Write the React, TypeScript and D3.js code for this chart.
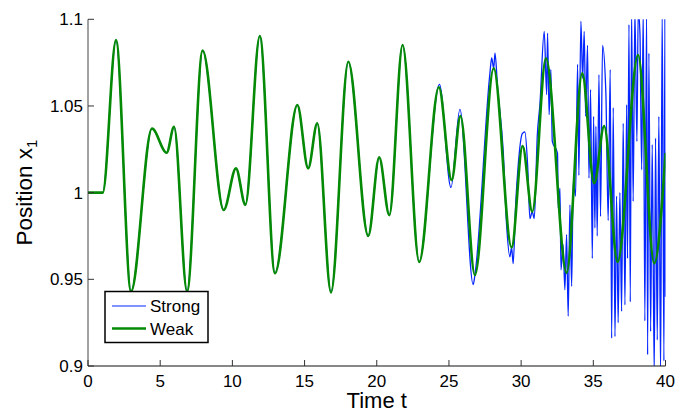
import React from 'react';
import * as d3 from 'd3';

// Weak coupling: smooth trajectory (turning points)
const weakT = [0, 1.02, 1.94, 2.98, 4.43, 5.45, 5.96, 6.86, 7.94, 9.4, 10.25, 10.9, 11.9, 12.95, 14.5, 15.25, 15.88, 16.83, 18.03, 19.41, 20.17, 20.87, 21.79, 22.94, 24.3, 25.19, 25.8, 26.8, 28.1, 29.34, 30.1, 30.77, 31.72, 33.15, 34.23, 35.06, 35.75, 36.68, 38.1, 39.22, 40];
const weakV = [1.0, 1.0, 1.088, 0.943, 1.037, 1.023, 1.038, 0.943, 1.082, 0.99, 1.014, 0.993, 1.0904, 0.9535, 1.0506, 1.014, 1.04, 0.9425, 1.0755, 0.975, 1.0204, 0.987, 1.0852, 0.96, 1.0608, 1.0073, 1.0442, 0.9525, 1.0717, 0.9684, 1.0269, 0.989, 1.0775, 0.9538, 1.0688, 1.0054, 1.0384, 0.96, 1.0794, 0.9592, 1.0222];

// Strong coupling: follows the weak curve, then breaks into spikes
const spikeT = [24.34, 25.14, 25.76, 26.68, 27.84, 27.96, 28.19, 28.37, 28.76, 29.0, 29.22, 29.45, 29.62, 29.8, 30.08, 30.26, 30.45, 30.61, 30.91, 31.12, 31.3, 31.6, 31.77, 31.83, 31.94, 32.06, 32.16, 32.52, 32.57, 32.69, 32.76, 32.91, 33.03, 33.15, 33.26, 33.38, 33.5, 33.61, 33.77, 33.91, 34.0, 34.14, 34.26, 34.37, 34.47, 34.6, 34.7, 34.81, 34.93, 35.02, 35.11, 35.18, 35.27, 35.39, 35.5, 35.64, 35.87, 36.03, 36.17, 36.27, 36.38, 36.5, 36.61, 36.72, 36.84, 36.96, 37.07, 37.19, 37.31, 37.37, 37.47, 37.56, 37.65, 37.76, 37.88, 38.02, 38.11, 38.23, 38.35, 38.46, 38.57, 38.69, 38.76, 38.85, 38.97, 39.08, 39.22, 39.31, 39.43, 39.54, 39.66, 39.77, 39.89, 39.96, 40.0];
const spikeV = [1.0625, 1.003, 1.048, 0.947, 1.069, 1.0777, 1.0805, 1.0604, 1.0238, 0.9806, 0.963, 0.959, 0.993, 1.016, 1.034, 1.035, 1.016, 0.985, 0.985, 1.033, 1.0507, 1.093, 1.0565, 1.092, 1.045, 1.071, 1.0296, 1.0228, 0.991, 1.0026, 0.9555, 0.97, 0.944, 0.9757, 0.9287, 0.993, 0.946, 1.0065, 0.998, 1.074, 1.01, 1.0989, 1.066, 1.093, 1.044, 1.085, 1.0084, 1.0594, 0.962, 1.044, 0.9796, 1.0383, 0.975, 1.068, 0.9863, 1.085, 1.0575, 0.984, 1.071, 0.916, 1.049, 0.917, 0.998, 0.925, 1.0, 0.9315, 1.04, 0.9353, 1.0507, 0.962, 1.097, 0.937, 1.105, 0.995, 1.105, 1.0296, 1.105, 1.092, 1.0132, 1.105, 0.926, 1.105, 0.9065, 1.0805, 0.92, 1.0277, 0.895, 1.0315, 0.915, 1.044, 0.895, 1.105, 0.903, 1.105, 0.94];

const xTicks = [0, 5, 10, 15, 20, 25, 30, 35, 40];
const yTicks = [0.9, 0.95, 1, 1.05, 1.1];
const yTickLabels = ['0.9', '0.95', '1', '1.05', '1.1'];
const seriesNames = ['Strong', 'Weak'];

const FONT = '"Liberation Sans", Arial, Helvetica, sans-serif';
const BLUE = '#0526ff';
const GREEN = '#058a05';

export default function App() {
  const W = 677, H = 408;
  const x = d3.scaleLinear().domain([0, 40]).range([88, 665.5]);
  const y = d3.scaleLinear().domain([0.9, 1.1]).range([366, 19.3]);

  const weakPts: [number, number][] = weakT.map((t, i) => [t, weakV[i]]);
  const spikePts: [number, number][] = spikeT.map((t, i) => [t, spikeV[i]]);
  const lastSmooth = 31.6;
  const strongPts: [number, number][] = weakPts
    .filter(([t]) => t < lastSmooth && !spikeT.some((s) => Math.abs(s - t) < 0.06))
    .concat(spikePts)
    .sort((a, b) => a[0] - b[0]);

  const line = d3
    .line<[number, number]>()
    .x((d) => x(d[0]))
    .y((d) => y(d[1]))
    .curve(d3.curveMonotoneX);

  const x0 = x(0), x1 = x(40), yTop = y(1.1), yBot = y(0.9);

  return (
    <svg width={W} height={H} style={{ position: 'absolute', left: 0, top: 0, background: '#fff' }} fontFamily={FONT}>
      <defs>
        <clipPath id="plotclip">
          <rect x={x0} y={yTop} width={x1 - x0} height={yBot - yTop} />
        </clipPath>
      </defs>
      <rect x={0} y={0} width={W} height={H} fill="#fff" />
      <g clipPath="url(#plotclip)">
        <path d={line(strongPts) || ''} fill="none" stroke={BLUE} strokeWidth={1.3} strokeLinejoin="round" />
        <path d={line(weakPts) || ''} fill="none" stroke={GREEN} strokeWidth={2.6} strokeLinejoin="round" strokeLinecap="round" />
      </g>
      {/* axes */}
      <line x1={x0} x2={x0} y1={yTop} y2={yBot} stroke="#444" strokeWidth={1} />
      <line x1={x0} x2={x1} y1={yBot} y2={yBot} stroke="#111" strokeWidth={1} />
      {yTicks.map((v, i) => (
        <g key={'y' + i}>
          <line x1={x0} x2={x0 + 6} y1={y(v)} y2={y(v)} stroke="#333" strokeWidth={1} />
          <text x={x0 - 5} y={y(v)} dy="0.36em" textAnchor="end" fontSize={17} fill="#000">
            {yTickLabels[i]}
          </text>
        </g>
      ))}
      {xTicks.map((v, i) => (
        <g key={'x' + i}>
          <line x1={x(v)} x2={x(v)} y1={yBot} y2={yBot - 6} stroke="#333" strokeWidth={1} />
          <text x={x(v)} y={387} textAnchor="middle" fontSize={17} fill="#000">
            {String(v)}
          </text>
        </g>
      ))}
      <text x={(x0 + x1) / 2} y={407.5} textAnchor="middle" fontSize={22} fill="#000">
        Time t
      </text>
      <text transform={`translate(32,${(yTop + yBot) / 2}) rotate(-90)`} textAnchor="middle" fontSize={22.5} fill="#000">
        Position x<tspan fontSize={15} dy={5}>1</tspan>
      </text>
      {/* legend */}
      <g>
        <rect x={105} y={291.5} width={103} height={51} fill="#fff" stroke="#000" strokeWidth={1.5} />
        <line x1={112} x2={146} y1={306} y2={306} stroke={BLUE} strokeWidth={1.1} />
        <text x={150} y={306} dy="0.36em" fontSize={17} fill="#000">{seriesNames[0]}</text>
        <line x1={112} x2={146} y1={328.5} y2={328.5} stroke={GREEN} strokeWidth={2.6} />
        <text x={150} y={328.5} dy="0.36em" fontSize={17} fill="#000">{seriesNames[1]}</text>
      </g>
    </svg>
  );
}
